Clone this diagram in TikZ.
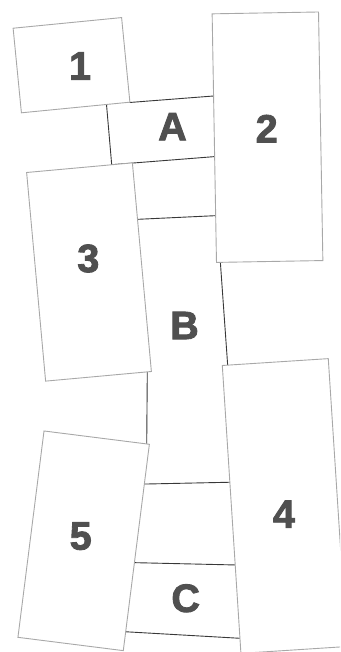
\documentclass[tikz,border=0pt]{standalone}
\usepackage{fontspec}
\setmainfont{Liberation Sans}
\newfontfamily\labfont[FakeBold=2.2]{Liberation Sans Bold}
\definecolor{boxgray}{HTML}{A8A8A8}
\definecolor{wallgray}{HTML}{383838}
\definecolor{labgray}{HTML}{505050}
\begin{document}
\begin{tikzpicture}[x=1pt,y=-1pt,
  blk/.style={draw=boxgray, fill=white, line width=0.9pt, inner sep=0pt, rectangle},
  wall/.style={draw=wallgray, line width=0.9pt},
  lab/.style={text=labgray, font=\labfont\fontsize{39.5}{41}\selectfont, inner sep=0pt}]
\useasboundingbox (0,0) rectangle (340,652);
\clip (0,0) rectangle (340,652);
\fill[white] (0,0) rectangle (340,652);
% wall corner points
\coordinate (a1) at (129.5,102.5);
\coordinate (a2) at (216,95.8);
\coordinate (a3) at (106.5,104.5);
\coordinate (a4) at (111.7,164.7);
\coordinate (a5) at (216,156.5);
\coordinate (b1) at (136,219.4);
\coordinate (b2) at (217,215.6);
\coordinate (b3) at (220.2,260);
\coordinate (b4) at (227.8,367);
\coordinate (b5) at (147.3,370);
\coordinate (b6) at (146.7,446);
\coordinate (b7) at (142,484.1);
\coordinate (b8) at (232,482.2);
\coordinate (c1) at (132,562.6);
\coordinate (c2) at (237,565);
\coordinate (c3) at (123,631.6);
\coordinate (c4) at (242,638.4);
% walls
\draw[wall] (a1) -- (a2);
\draw[wall] (a3) -- (a4) -- (a5);
\draw[wall] (b1) -- (b2);
\draw[wall] (b3) -- (b4);
\draw[wall] (b5) -- (b6);
\draw[wall] (b7) -- (b8);
\draw[wall] (c1) -- (c2);
\draw[wall] (c3) -- (c4);
% blocks
\node[blk, minimum width=109pt, minimum height=85pt, rotate=5.6] (k1) at (71.5,65.2) {};
\node[blk, minimum width=106.4pt, minimum height=248.6pt, rotate=1] (k2) at (267.5,137.2) {};
\node[blk, minimum width=106.2pt, minimum height=209.5pt, rotate=5.2] (k3) at (89,272) {};
\node[blk, minimum width=106.2pt, minimum height=288.5pt, rotate=3.7] (k4) at (284.6,506) {};
\node[blk, minimum width=106.2pt, minimum height=208pt, rotate=-7.2] (k5) at (83.65,540.8) {};
% labels
\node[lab] (l1) at (80,66) {1};
\node[lab] (l2) at (266.7,128.7) {2};
\node[lab] (l3) at (88.3,258.5) {3};
\node[lab] (l4) at (284,514.2) {4};
\node[lab] (l5) at (80.7,536.2) {5};
\node[lab] (lA) at (172.5,126.7) {A};
\node[lab] (lB) at (184.5,325.5) {B};
\node[lab] (lC) at (185.7,598.3) {C};
\end{tikzpicture}
\end{document}
